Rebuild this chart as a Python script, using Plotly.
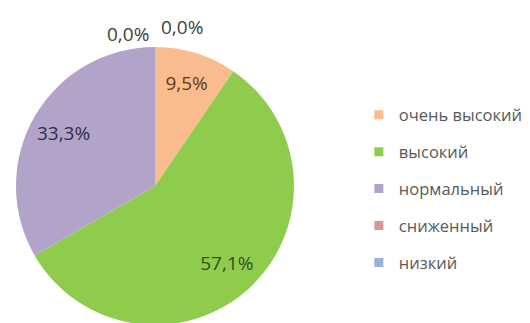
import math
import plotly.graph_objects as go

categories = ["очень высокий", "высокий", "нормальный", "сниженный", "низкий"]
counts = [2, 12, 7, 0, 0]
slice_colors = ["#F9BC8E", "#8FCC4E", "#B2A3C8", "#D99694", "#95B3D7"]
label_colors = ["#5E3A1C", "#34501A", "#352B48", "#404040", "#404040"]

FONT = "Open Sans"
W, H = 530, 323
dom_x = [0.0151, 0.5396]
dom_y = [0.0186, 0.8793]

total = sum(counts)
pct_text = [("%.1f%%" % (100.0 * v / total)).replace(".", ",") for v in counts]
inner_templates = ["%{percent:.1%}" if v > 0 else "" for v in counts]

fig = go.Figure()

# main pie (colours only)
fig.add_trace(go.Pie(
    labels=categories, values=counts, sort=False, direction="clockwise",
    rotation=0, marker=dict(colors=slice_colors, line=dict(width=0)),
    textinfo="none", showlegend=False, domain=dict(x=dom_x, y=dom_y),
))

# transparent ring carrying the data labels of the non-empty slices
fig.add_trace(go.Pie(
    labels=categories, values=counts, sort=False, direction="clockwise",
    rotation=0, hole=0.52,
    marker=dict(colors=["rgba(0,0,0,0)"] * len(categories), line=dict(width=0)),
    texttemplate=inner_templates, textposition="inside",
    insidetextorientation="horizontal",
    textfont=dict(family=FONT, size=19, color=label_colors),
    showlegend=False, hoverinfo="skip", domain=dict(x=dom_x, y=dom_y),
))

# labels of the empty slices, placed just outside the rim at their angle
cx = (dom_x[0] + dom_x[1]) / 2
cy = (dom_y[0] + dom_y[1]) / 2
r_px = min((dom_x[1] - dom_x[0]) * W, (dom_y[1] - dom_y[0]) * H) / 2
cum = 0
side = -1
for v, txt, col in zip(counts, pct_text, label_colors):
    if v == 0:
        ang = 2 * math.pi * cum / total
        rr = r_px * 1.12
        fig.add_annotation(
            x=cx + rr * math.sin(ang) / W, y=cy + rr * math.cos(ang) / H,
            xref="paper", yref="paper", text=txt, showarrow=False,
            xanchor="center", yanchor="middle",
            xshift=27 * side, yshift=(-4 if side < 0 else 3),
            font=dict(family=FONT, size=19, color=col),
        )
        side = -side
    cum += v

# legend entries
for name, col in zip(categories, slice_colors):
    fig.add_trace(go.Scatter(
        x=[None], y=[None], mode="markers", name=name, legendgroup=name,
        marker=dict(symbol="square", size=9, color=col),
    ))

fig.update_layout(
    width=W, height=H, margin=dict(l=0, r=0, t=0, b=0),
    paper_bgcolor="white", plot_bgcolor="white",
    separators=", ",
    xaxis=dict(visible=False), yaxis=dict(visible=False),
    showlegend=True,
    legend=dict(x=0.662, y=0.723, xanchor="left", yanchor="top",
                font=dict(family=FONT, size=16.5, color="#595959"),
                tracegroupgap=12.5, itemwidth=30, bgcolor="rgba(0,0,0,0)"),
)

fig.write_html("out.html")
